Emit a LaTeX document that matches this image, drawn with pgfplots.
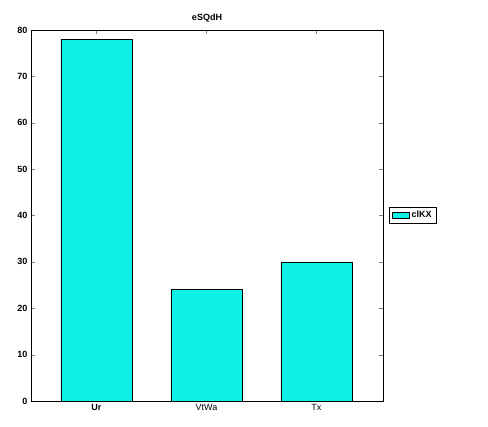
\documentclass[border=0pt]{standalone}
\usepackage{pgfplots}
\pgfplotsset{compat=1.18}
\usepackage{fontspec}
\setmainfont{Liberation Sans}
\definecolor{barc}{HTML}{0EF0E6}
\begin{document}
\begin{tikzpicture}
\path[use as bounding box] (-31pt,-26pt) rectangle (457pt,401pt);
\begin{axis}[at={(0,0)},anchor=south west,scale only axis,width=352pt,height=371pt,
 xmin=-0.595,xmax=2.605,ymin=0,ymax=80,
 xtick={0,1,2},xticklabels={\textbf{Ur},VtWa,Tx},
 ytick={0,10,...,80},
 yticklabel style={font=\small\bfseries},
 xticklabel style={font=\small},
 /pgf/number format/assume math mode=true,
 tick align=inside,tick pos=both,major tick length=4pt,
 title={\textbf{eSQdH}},title style={font=\small,yshift=-2pt},
 legend style={at={(1.017,0.501)},anchor=west,font=\small\bfseries,draw=black,legend cell align=left},
 legend image code/.code={\draw[fill=barc,draw=black] (0cm,-0.1cm) rectangle (0.6cm,0.12cm);},
]
\addplot[ybar,bar width=0.645,fill=barc,draw=black] coordinates {(0,78) (1,24) (2,30)};
\addlegendentry{clKX}
\end{axis}
\end{tikzpicture}
\end{document}
